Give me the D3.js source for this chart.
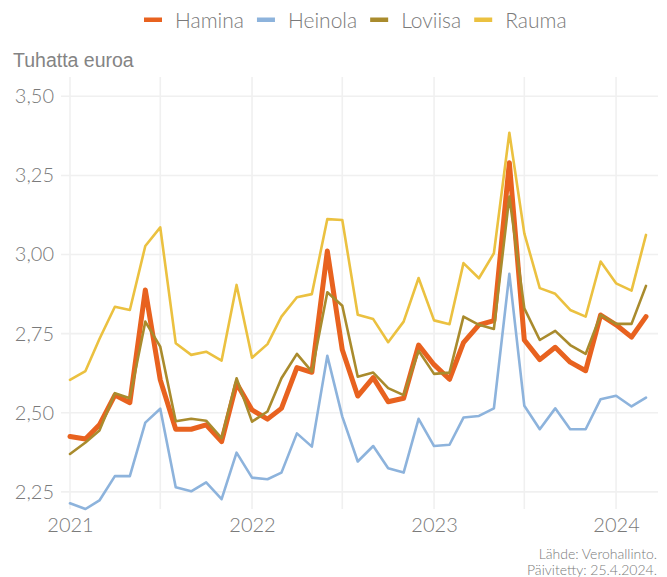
<!DOCTYPE html>
<html>
<head>
<meta charset="utf-8">
<script src="https://cdn.jsdelivr.net/npm/d3@7"></script>
<style>
  html, body { margin: 0; padding: 0; background: #fff; }
  svg { display: block; }
</style>
</head>
<body>
<div id="chart"></div>
<script>
"use strict";

var months = [
  '2021-01', '2021-02', '2021-03', '2021-04', '2021-05', '2021-06', '2021-07', '2021-08', '2021-09', '2021-10', '2021-11', '2021-12',
  '2022-01', '2022-02', '2022-03', '2022-04', '2022-05', '2022-06', '2022-07', '2022-08', '2022-09', '2022-10', '2022-11', '2022-12',
  '2023-01', '2023-02', '2023-03', '2023-04', '2023-05', '2023-06', '2023-07', '2023-08', '2023-09', '2023-10', '2023-11', '2023-12',
  '2024-01', '2024-02', '2024-03'
];

var hamina = [
  2.425, 2.417, 2.462, 2.556, 2.532, 2.888, 2.604, 2.448, 2.448, 2.462, 2.409, 2.593,
  2.509, 2.480, 2.514, 2.643, 2.628, 3.011, 2.699, 2.553, 2.611, 2.535, 2.546, 2.714,
  2.652, 2.606, 2.722, 2.778, 2.791, 3.290, 2.730, 2.668, 2.707, 2.660, 2.633, 2.809,
  2.778, 2.739, 2.804
];
var heinola = [
  2.214, 2.196, 2.223, 2.300, 2.300, 2.469, 2.513, 2.265, 2.252, 2.280, 2.227, 2.374,
  2.295, 2.290, 2.311, 2.435, 2.393, 2.680, 2.488, 2.346, 2.395, 2.325, 2.311, 2.481,
  2.395, 2.399, 2.485, 2.490, 2.514, 2.939, 2.522, 2.448, 2.514, 2.448, 2.448, 2.543,
  2.554, 2.520, 2.548
];
var loviisa = [
  2.370, 2.406, 2.444, 2.562, 2.546, 2.788, 2.709, 2.473, 2.481, 2.475, 2.420, 2.609,
  2.472, 2.504, 2.609, 2.686, 2.630, 2.881, 2.838, 2.614, 2.627, 2.578, 2.556, 2.696,
  2.623, 2.627, 2.804, 2.778, 2.765, 3.183, 2.830, 2.730, 2.759, 2.714, 2.686, 2.809,
  2.781, 2.781, 2.901
];
var rauma = [
  2.604, 2.632, 2.733, 2.835, 2.825, 3.027, 3.086, 2.720, 2.683, 2.693, 2.665, 2.904,
  2.674, 2.717, 2.804, 2.865, 2.875, 3.112, 3.109, 2.810, 2.796, 2.723, 2.788, 2.926,
  2.792, 2.780, 2.973, 2.925, 3.004, 3.385, 3.067, 2.894, 2.876, 2.825, 2.804, 2.978,
  2.909, 2.886, 3.062
];

var seriesNames = ['Hamina', 'Heinola', 'Loviisa', 'Rauma'];
var seriesValues = [hamina, heinola, loviisa, rauma];
var seriesColors = ['#e8621f', '#8db3dc', '#a98b2d', '#ebc140'];
var seriesWidths = [5, 2.6, 2.6, 2.6];

var yTicks = [2.25, 2.50, 2.75, 3.00, 3.25, 3.50];
var yTitle = 'Tuhatta euroa';
var captionLines = ['Lähde: Verohallinto.', 'Päivitetty: 25.4.2024.'];

var W = 667, H = 577;
var panel = { left: 61, right: 658, top: 77, bottom: 509 };
var parseMonth = d3.timeParse('%Y-%m');
var dates = months.map(parseMonth);

var svg = d3.select('#chart').append('svg')
  .attr('width', W).attr('height', H)
  .attr('viewBox', '0 0 ' + W + ' ' + H);

var x = d3.scaleTime()
  .domain([dates[0], dates[dates.length - 1]])
  .range([70, 646]);
var y = d3.scaleLinear()
  .domain([2.196, 3.561])
  .range([panel.bottom, panel.top]);

var GRID = '#f0f0f0';
var TEXT = '#7a7a7a';
var TICK_FONT = 'Lato, "Open Sans", sans-serif';

// Grid lines
var gridV = x.ticks(d3.timeMonth.every(6)).filter(function (d) {
  return d >= dates[0] && d <= dates[dates.length - 1];
});
svg.append('g').selectAll('line').data(gridV).enter().append('line')
  .attr('x1', function (d) { return x(d); })
  .attr('x2', function (d) { return x(d); })
  .attr('y1', panel.top).attr('y2', panel.bottom)
  .attr('stroke', GRID).attr('stroke-width', 1.6);
svg.append('g').selectAll('line').data(yTicks).enter().append('line')
  .attr('x1', panel.left).attr('x2', panel.right)
  .attr('y1', function (d) { return y(d); })
  .attr('y2', function (d) { return y(d); })
  .attr('stroke', GRID).attr('stroke-width', 1.6);

// Y axis labels
var yAxis = svg.append('g')
  .attr('transform', 'translate(' + panel.left + ',0)')
  .call(d3.axisLeft(y).tickValues(yTicks).tickSize(0).tickPadding(7)
    .tickFormat(function (d) { return d3.format('.2f')(d).replace('.', ','); }));
yAxis.select('.domain').remove();
yAxis.selectAll('text')
  .attr('font-family', TICK_FONT).attr('font-weight', 300)
  .attr('font-size', 20).attr('fill', TEXT);

// X axis labels (years)
var yearTicks = gridV.filter(function (d) { return d.getMonth() === 0; });
var xAxis = svg.append('g')
  .attr('transform', 'translate(0,' + panel.bottom + ')')
  .call(d3.axisBottom(x).tickValues(yearTicks).tickSize(0).tickPadding(9)
    .tickFormat(d3.timeFormat('%Y')));
xAxis.select('.domain').remove();
xAxis.selectAll('text')
  .attr('font-family', TICK_FONT).attr('font-weight', 300)
  .attr('font-size', 20).attr('fill', TEXT);

// Lines
var line = d3.line()
  .x(function (d, i) { return x(dates[i]); })
  .y(function (d) { return y(d); });
svg.append('g').selectAll('path').data(seriesValues).enter().append('path')
  .attr('d', function (d) { return line(d); })
  .attr('fill', 'none')
  .attr('stroke', function (d, i) { return seriesColors[i]; })
  .attr('stroke-width', function (d, i) { return seriesWidths[i]; })
  .attr('stroke-linejoin', 'round')
  .attr('stroke-linecap', 'round');

// Y title
svg.append('text')
  .attr('x', 13).attr('y', 67)
  .attr('font-family', '"Liberation Sans", Arial, sans-serif')
  .attr('font-size', 19.5).attr('fill', '#848484')
  .text(yTitle);

// Legend
var legend = svg.append('g').attr('transform', 'translate(144,0)');
var lx = 0;
seriesNames.forEach(function (name, i) {
  legend.append('rect')
    .attr('x', lx).attr('y', 17.5).attr('width', 18).attr('height', 4.5)
    .attr('fill', seriesColors[i]);
  var t = legend.append('text')
    .attr('x', lx + 31).attr('y', 27.5)
    .attr('font-family', TICK_FONT).attr('font-weight', 300)
    .attr('font-size', 21).attr('fill', TEXT)
    .text(name);
  lx += 31 + t.node().getComputedTextLength() + 13;
});

// Caption
svg.append('g').selectAll('text').data(captionLines).enter().append('text')
  .attr('x', 657).attr('y', function (d, i) { return 559 + i * 15.5; })
  .attr('text-anchor', 'end')
  .attr('font-family', TICK_FONT).attr('font-weight', 300)
  .attr('font-size', 14).attr('fill', TEXT)
  .text(function (d) { return d; });
</script>
</body>
</html>
